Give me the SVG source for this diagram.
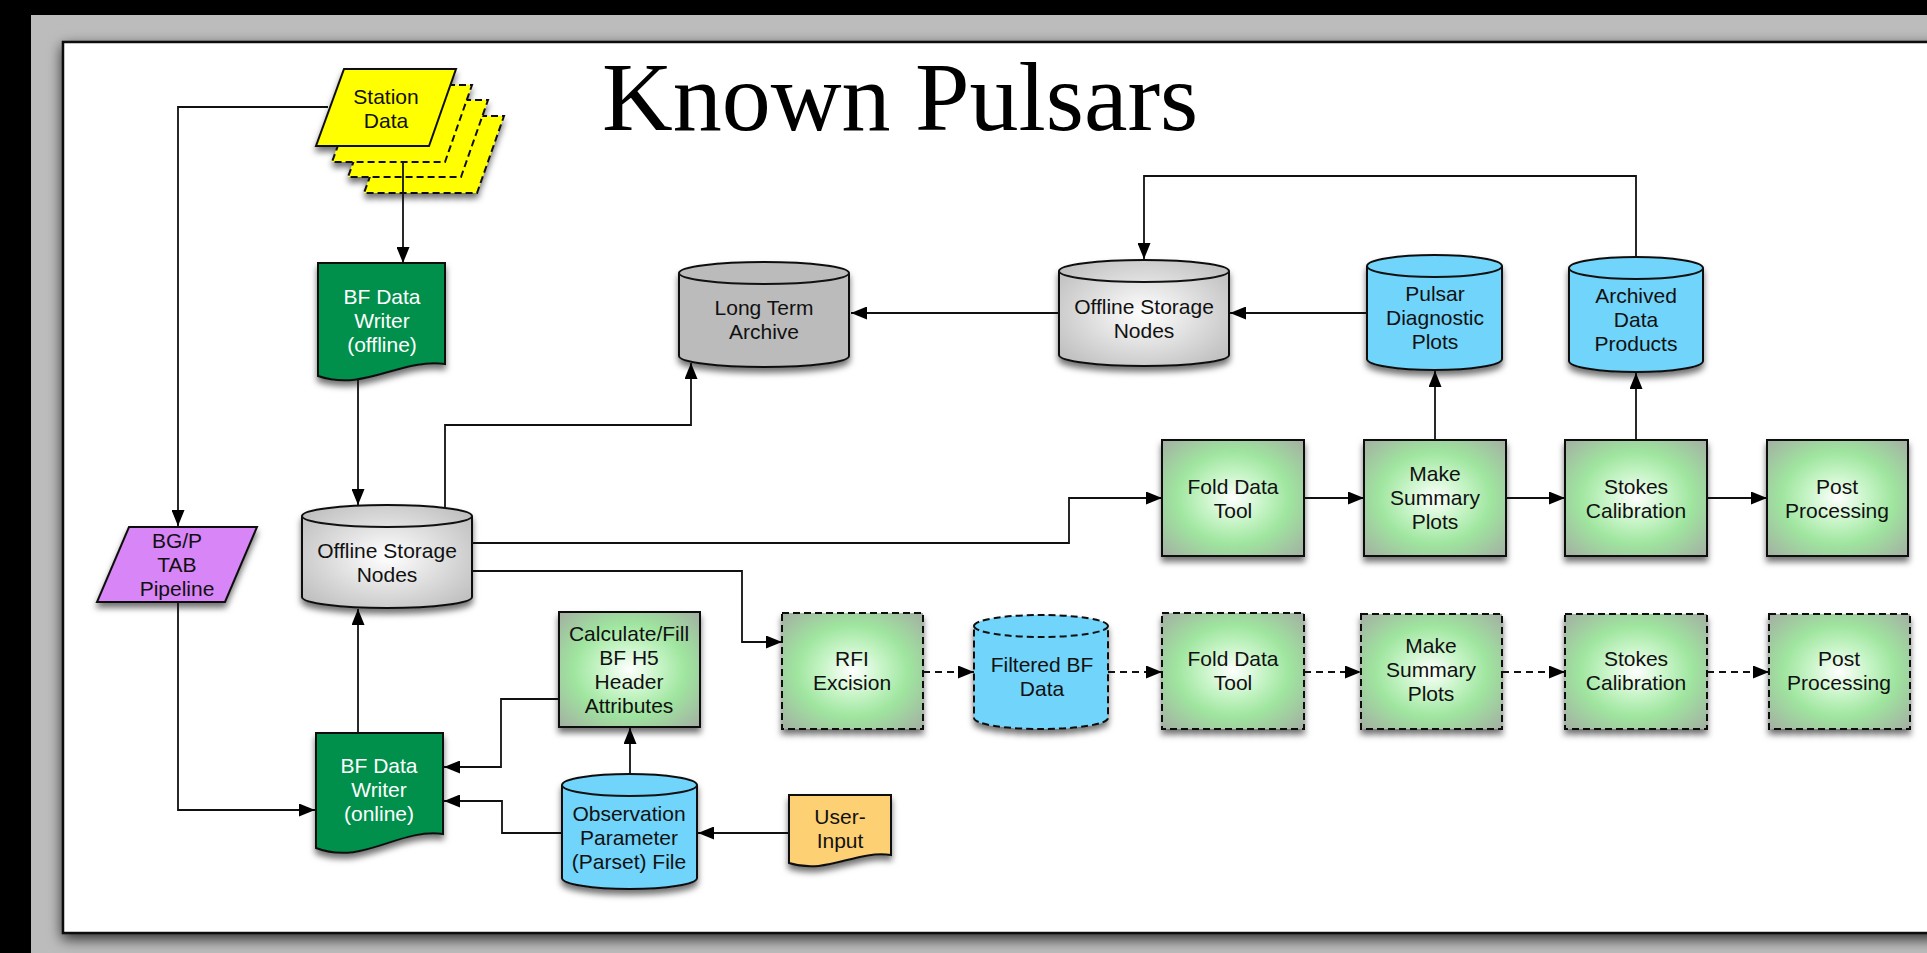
<svg xmlns="http://www.w3.org/2000/svg" width="1927" height="953" viewBox="0 0 1927 953">
  <defs>
    <style>
      .lbl { font-family: "Liberation Sans", Arial, Helvetica, sans-serif; font-size: 21px; fill: #111; text-anchor: middle; }
      .lblw { font-family: "Liberation Sans", Arial, Helvetica, sans-serif; font-size: 21px; fill: #fff; text-anchor: middle; }
      .title { font-family: "Liberation Serif", "Times New Roman", serif; font-size: 98px; fill: #000; }
      .edge { stroke: #111; stroke-width: 1.8; fill: none; }
      .arrow { marker-end: url(#ah); }
      .dash { stroke-dasharray: 7 5; }
      .node { stroke: #111; stroke-width: 2; filter: url(#sh); }
      .ndash { stroke-dasharray: 7 4; }
      .proc { fill: url(#procFill); }
      .blue { fill: #6fd4fb; }
      .graycyl { fill: url(#grayFill); }
      .archive { fill: #bbbbbb; }
      .doc { fill: #00904c; }
    </style>
    <radialGradient id="procFill" cx="50%" cy="50%" r="72%">
      <stop offset="0" stop-color="#ffffff"/>
      <stop offset="0.3" stop-color="#c6f4c6"/>
      <stop offset="0.55" stop-color="#9fe59f"/>
      <stop offset="1" stop-color="#a4aca3"/>
    </radialGradient>
    <radialGradient id="grayFill" cx="50%" cy="50%" r="65%">
      <stop offset="0" stop-color="#ffffff"/>
      <stop offset="1" stop-color="#bdbdbd"/>
    </radialGradient>
    <filter id="sh" x="-20%" y="-20%" width="140%" height="150%">
      <feDropShadow dx="0" dy="5" stdDeviation="3" flood-color="#000" flood-opacity="0.55"/>
    </filter>
    <filter id="frameSh" x="-5%" y="-5%" width="110%" height="110%">
      <feDropShadow dx="0" dy="5" stdDeviation="7" flood-color="#000" flood-opacity="0.75"/>
    </filter>
    <marker id="ah" markerUnits="userSpaceOnUse" markerWidth="17" markerHeight="13" refX="16" refY="6.5" orient="auto">
      <path d="M0,0 L16,6.5 L0,13 Z" fill="#000"/>
    </marker>
    <path id="sdShape" d="M344,69 H456 L429,146 H316 Z"/>
  </defs>

  <!-- page background and sheet -->
  <rect x="0" y="0" width="1927" height="953" fill="#000"/>
  <rect x="31" y="15" width="1896" height="938" fill="#bcbcbc"/>
  <rect x="63" y="42" width="1900" height="891" fill="#fff" stroke="#111" stroke-width="2.5" filter="url(#frameSh)"/>

  <text class="title" x="602" y="130">Known Pulsars</text>

  <!-- nodes -->
  <g id="station-data">
    <g filter="url(#sh)">
      <use href="#sdShape" transform="translate(48,47)" fill="#ffff00" stroke="#111" stroke-width="2" stroke-dasharray="7 4"/>
      <use href="#sdShape" transform="translate(32,31)" fill="#ffff00" stroke="#111" stroke-width="2" stroke-dasharray="7 4"/>
      <use href="#sdShape" transform="translate(16,16)" fill="#ffff00" stroke="#111" stroke-width="2" stroke-dasharray="7 4"/>
      <use href="#sdShape" fill="#ffff00" stroke="#111" stroke-width="2"/>
    </g>
    <text class="lbl" x="386" y="104">Station</text>
    <text class="lbl" x="386" y="128">Data</text>
  </g>

  <g id="bf-writer-offline">
    <path class="node doc" d="M318,263 H445 V364 C400,358 365,392 318,376 Z"/>
    <text class="lblw" x="382" y="304">BF Data</text>
    <text class="lblw" x="382" y="328">Writer</text>
    <text class="lblw" x="382" y="352">(offline)</text>
  </g>

  <g id="bgp-tab-pipeline">
    <path class="node" fill="#d885f7" d="M129,527 H257 L225,602 H97 Z"/>
    <text class="lbl" x="177" y="548">BG/P</text>
    <text class="lbl" x="177" y="572">TAB</text>
    <text class="lbl" x="177" y="596">Pipeline</text>
  </g>

  <g id="offline-storage-left">
    <path class="node graycyl" d="M302,516 A85,11 0 0 1 472,516 V597 A85,11 0 0 1 302,597 Z"/>
    <path d="M302,516 A85,11 0 0 0 472,516" fill="none" stroke="#111" stroke-width="2"/>
    <text class="lbl" x="387" y="558">Offline Storage</text>
    <text class="lbl" x="387" y="582">Nodes</text>
  </g>

  <g id="bf-writer-online">
    <path class="node doc" d="M316,733 H443 V834 C398,828 363,866 316,848 Z"/>
    <text class="lblw" x="379" y="773">BF Data</text>
    <text class="lblw" x="379" y="797">Writer</text>
    <text class="lblw" x="379" y="821">(online)</text>
  </g>

  <g id="calc-header">
    <rect class="node proc" x="559" y="612" width="141" height="115"/>
    <text class="lbl" x="629" y="641">Calculate/Fill</text>
    <text class="lbl" x="629" y="665">BF H5</text>
    <text class="lbl" x="629" y="689">Header</text>
    <text class="lbl" x="629" y="713">Attributes</text>
  </g>

  <g id="parset-file">
    <path class="node blue" d="M562,785 A67.5,11 0 0 1 697,785 V878 A67.5,11 0 0 1 562,878 Z"/>
    <path d="M562,785 A67.5,11 0 0 0 697,785" fill="none" stroke="#111" stroke-width="2"/>
    <text class="lbl" x="629" y="821">Observation</text>
    <text class="lbl" x="629" y="845">Parameter</text>
    <text class="lbl" x="629" y="869">(Parset) File</text>
  </g>

  <g id="user-input">
    <path class="node" fill="#fdd073" d="M789,795 H891 V855 C855,850 827,875 789,863 Z"/>
    <text class="lbl" x="840" y="824">User-</text>
    <text class="lbl" x="840" y="848">Input</text>
  </g>

  <g id="long-term-archive">
    <path class="node archive" d="M679,273 A85,11 0 0 1 849,273 V356 A85,11 0 0 1 679,356 Z"/>
    <path d="M679,273 A85,11 0 0 0 849,273" fill="none" stroke="#111" stroke-width="2"/>
    <text class="lbl" x="764" y="315">Long Term</text>
    <text class="lbl" x="764" y="339">Archive</text>
  </g>

  <g id="offline-storage-top">
    <path class="node graycyl" d="M1059,271 A85,11 0 0 1 1229,271 V355 A85,11 0 0 1 1059,355 Z"/>
    <path d="M1059,271 A85,11 0 0 0 1229,271" fill="none" stroke="#111" stroke-width="2"/>
    <text class="lbl" x="1144" y="314">Offline Storage</text>
    <text class="lbl" x="1144" y="338">Nodes</text>
  </g>

  <g id="pulsar-diagnostic-plots">
    <path class="node blue" d="M1367,266 A67.5,11 0 0 1 1502,266 V359 A67.5,11 0 0 1 1367,359 Z"/>
    <path d="M1367,266 A67.5,11 0 0 0 1502,266" fill="none" stroke="#111" stroke-width="2"/>
    <text class="lbl" x="1435" y="301">Pulsar</text>
    <text class="lbl" x="1435" y="325">Diagnostic</text>
    <text class="lbl" x="1435" y="349">Plots</text>
  </g>

  <g id="archived-data-products">
    <path class="node blue" d="M1569,268 A67,11 0 0 1 1703,268 V361 A67,11 0 0 1 1569,361 Z"/>
    <path d="M1569,268 A67,11 0 0 0 1703,268" fill="none" stroke="#111" stroke-width="2"/>
    <text class="lbl" x="1636" y="303">Archived</text>
    <text class="lbl" x="1636" y="327">Data</text>
    <text class="lbl" x="1636" y="351">Products</text>
  </g>

  <g id="fold-data-tool">
    <rect class="node proc" x="1162" y="440" width="142" height="116"/>
    <text class="lbl" x="1233" y="494">Fold Data</text>
    <text class="lbl" x="1233" y="518">Tool</text>
  </g>

  <g id="make-summary-plots">
    <rect class="node proc" x="1364" y="440" width="142" height="116"/>
    <text class="lbl" x="1435" y="481">Make</text>
    <text class="lbl" x="1435" y="505">Summary</text>
    <text class="lbl" x="1435" y="529">Plots</text>
  </g>

  <g id="stokes-calibration">
    <rect class="node proc" x="1565" y="440" width="142" height="116"/>
    <text class="lbl" x="1636" y="494">Stokes</text>
    <text class="lbl" x="1636" y="518">Calibration</text>
  </g>

  <g id="post-processing">
    <rect class="node proc" x="1767" y="440" width="141" height="116"/>
    <text class="lbl" x="1837" y="494">Post</text>
    <text class="lbl" x="1837" y="518">Processing</text>
  </g>

  <g id="rfi-excision">
    <rect class="node proc ndash" x="782" y="613" width="141" height="116"/>
    <text class="lbl" x="852" y="666">RFI</text>
    <text class="lbl" x="852" y="690">Excision</text>
  </g>

  <g id="filtered-bf-data">
    <path class="node blue ndash" d="M974,626 A67,11 0 0 1 1108,626 V718 A67,11 0 0 1 974,718 Z"/>
    <path d="M974,626 A67,11 0 0 0 1108,626" fill="none" stroke="#111" stroke-width="2" stroke-dasharray="7 4"/>
    <text class="lbl" x="1042" y="672">Filtered BF</text>
    <text class="lbl" x="1042" y="696">Data</text>
  </g>

  <g id="fold-data-tool-2">
    <rect class="node proc ndash" x="1162" y="613" width="142" height="116"/>
    <text class="lbl" x="1233" y="666">Fold Data</text>
    <text class="lbl" x="1233" y="690">Tool</text>
  </g>

  <g id="make-summary-plots-2">
    <rect class="node proc ndash" x="1361" y="614" width="141" height="115"/>
    <text class="lbl" x="1431" y="653">Make</text>
    <text class="lbl" x="1431" y="677">Summary</text>
    <text class="lbl" x="1431" y="701">Plots</text>
  </g>

  <g id="stokes-calibration-2">
    <rect class="node proc ndash" x="1565" y="614" width="142" height="115"/>
    <text class="lbl" x="1636" y="666">Stokes</text>
    <text class="lbl" x="1636" y="690">Calibration</text>
  </g>

  <g id="post-processing-2">
    <rect class="node proc ndash" x="1769" y="614" width="141" height="115"/>
    <text class="lbl" x="1839" y="666">Post</text>
    <text class="lbl" x="1839" y="690">Processing</text>
  </g>

  <!-- connectors -->
  <g id="connectors">
    <path class="edge arrow" d="M403,162 V263"/>
    <path class="edge arrow" d="M328,107 H178 V526"/>
    <path class="edge arrow" d="M178,602 V810 H315"/>
    <path class="edge arrow" d="M358,379 V505"/>
    <path class="edge arrow" d="M358,733 V609"/>
    <path class="edge arrow" d="M445,508 V425 H691 V363"/>
    <path class="edge arrow" d="M472,543 H1069 V498 H1162"/>
    <path class="edge arrow" d="M472,571 H742 V642 H782"/>
    <path class="edge arrow" d="M1059,313 H851"/>
    <path class="edge arrow" d="M1367,313 H1230"/>
    <path class="edge arrow" d="M1636,257 V176 H1144 V259"/>
    <path class="edge arrow" d="M1304,498 H1364"/>
    <path class="edge arrow" d="M1506,498 H1565"/>
    <path class="edge arrow" d="M1707,498 H1767"/>
    <path class="edge arrow" d="M1435,440 V371"/>
    <path class="edge arrow" d="M1636,440 V373"/>
    <path class="edge arrow dash" d="M923,672 H974"/>
    <path class="edge arrow dash" d="M1108,672 H1162"/>
    <path class="edge arrow dash" d="M1304,672 H1361"/>
    <path class="edge arrow dash" d="M1502,672 H1565"/>
    <path class="edge arrow dash" d="M1707,672 H1769"/>
    <path class="edge arrow" d="M559,699 H501 V767 H444"/>
    <path class="edge arrow" d="M630,774 V728"/>
    <path class="edge arrow" d="M562,833 H502 V801 H444"/>
    <path class="edge arrow" d="M789,833 H698"/>
  </g>
</svg>
